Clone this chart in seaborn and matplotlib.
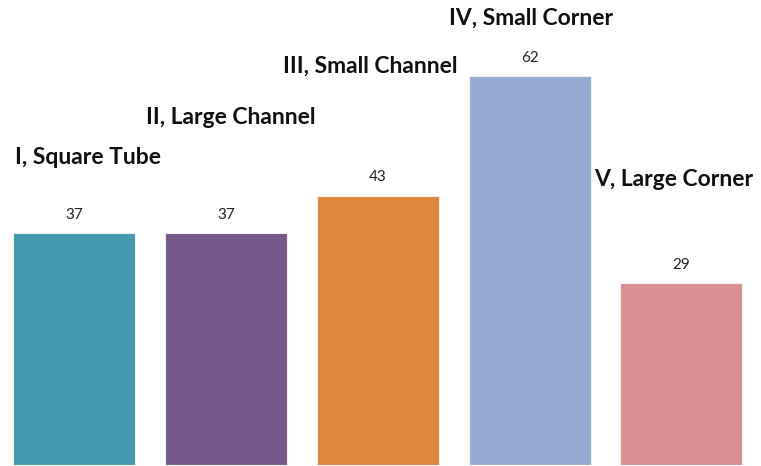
import matplotlib
matplotlib.use("Agg")
import matplotlib.pyplot as plt
import seaborn as sns
import pandas as pd

categories = ["I, Square Tube", "II, Large Channel", "III, Small Channel",
              "IV, Small Corner", "V, Large Corner"]
values = [37, 37, 43, 62, 29]
colors = ["#4399AD", "#74598A", "#DF873A", "#96ABD2", "#D78F93"]

# layout of category captions (data coords): x offset from bar center, y
caption_dx = [0.09, 0.03, -0.05, 0.01, -0.05]
caption_y = [49.1, 55.5, 63.6, 71.3, 45.5]

sns.set_theme(style="white")
plt.rcParams["font.family"] = ["Lato", "DejaVu Sans"]

df = pd.DataFrame({"cat": categories, "val": values})

fig = plt.figure(figsize=(7.61, 4.66), dpi=100)
ax = fig.add_axes([-0.002, 1 / 466, 0.997, 1 - 1 / 466])
sns.barplot(data=df, x="cat", y="val", hue="cat", palette=colors,
            saturation=1, legend=False, width=0.805, ax=ax,
            edgecolor="#f0f0f0", linewidth=0.8)

ax.set_xlim(-0.5, 4.5)
ax.set_ylim(0, 74.2)
ax.axis("off")

for i, (v, c) in enumerate(zip(values, categories)):
    ax.annotate(str(v), (i, v), xytext=(0, 13), textcoords="offset points",
                ha="center", va="center", fontsize=11, color="#222222")
    ax.text(i + caption_dx[i], caption_y[i], c, ha="center", va="center",
            fontsize=16.5, fontweight="bold", color="#111111")

fig.savefig("out.png", dpi=100)
